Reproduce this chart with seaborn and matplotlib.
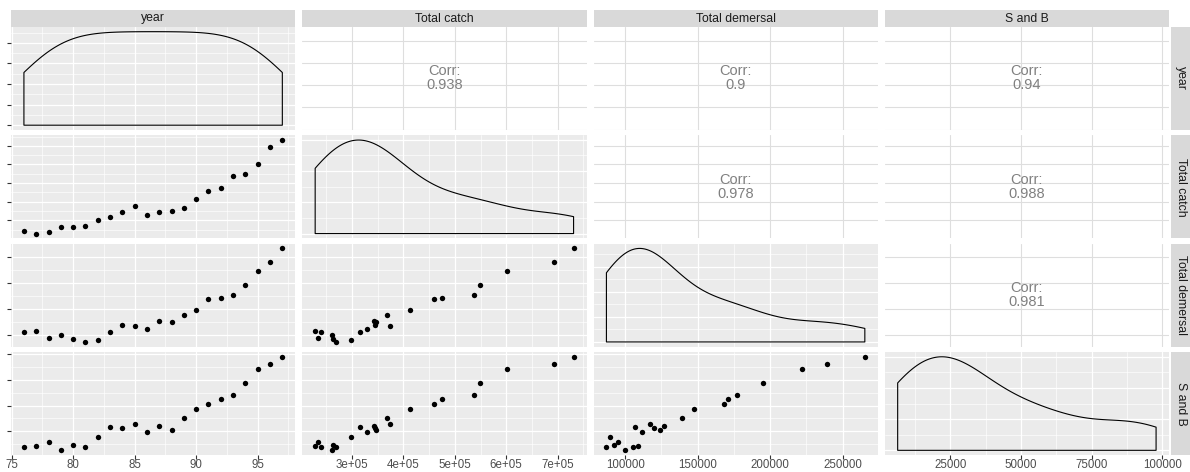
import numpy as np
import pandas as pd
import matplotlib
matplotlib.use("Agg")
import matplotlib.pyplot as plt
import seaborn as sns
from matplotlib.ticker import AutoMinorLocator, MaxNLocator

# ---------------- data ----------------
year = [76, 77, 78, 79, 80, 81, 82, 83, 84, 85, 86,
        87, 88, 89, 90, 91, 92, 93, 94, 95, 96, 97]
total_catch = [240000, 228300, 234100, 261000, 262800, 269300, 298700, 315000,
               344400, 374300, 330000, 342400, 347000, 367800, 413500, 459800,
               474800, 537400, 549000, 600700, 692000, 731000]
total_demersal = [105300, 108800, 94900, 100000, 92400, 87100, 89900, 106500,
                  120000, 117300, 111500, 126700, 124400, 139400, 147500, 168400,
                  171200, 177000, 194900, 222300, 239600, 265400]
s_and_b = [9240, 10520, 14060, 6340, 11810, 9240, 18890, 28870, 28220, 31760,
           24040, 29830, 26290, 37880, 46240, 52040, 56540, 60720, 72310, 86150,
           90970, 97740]

variables = ["year", "Total catch", "Total demersal", "S and B"]

tick_values = {
    "year": [75, 80, 85, 90, 95],
    "Total catch": [300000, 400000, 500000, 600000, 700000],
    "Total demersal": [100000, 150000, 200000, 250000],
    "S and B": [25000, 50000, 75000, 100000],
}
tick_labels = {
    "year": ["75", "80", "85", "90", "95"],
    "Total catch": ["3e+05", "4e+05", "5e+05", "6e+05", "7e+05"],
    "Total demersal": ["100000", "150000", "200000", "250000"],
    "S and B": ["25000", "50000", "75000", "100000"],
}
corr_labels = {
    (0, 1): "0.938", (0, 2): "0.9", (0, 3): "0.94",
    (1, 2): "0.978", (1, 3): "0.988",
    (2, 3): "0.981",
}

df = pd.DataFrame({
    "year": year,
    "Total catch": total_catch,
    "Total demersal": total_demersal,
    "S and B": s_and_b,
})

# ---------------- style ----------------
sns.set_theme(style="darkgrid")
plt.rcParams["font.family"] = ["Liberation Sans", "DejaVu Sans"]

PANEL_BG = "#EBEBEB"
STRIP_BG = "#D9D9D9"
TEXT_COL = "#1A1A1A"
TICK_TXT = "#4D4D4D"
TICK_COL = "#333333"

W, H = 1190, 472
fig = plt.figure(figsize=(W / 100, H / 100), dpi=100)
fig.patch.set_facecolor("white")

left, right, top, bottom = 11, 1169, 27, 455
pw = (right - left - 3 * 7) / 4
ph = (bottom - top - 3 * 5.5) / 4
gs = fig.add_gridspec(4, 4, left=left / W, right=right / W,
                      top=1 - top / H, bottom=1 - bottom / H,
                      wspace=7 / pw, hspace=5.5 / ph)


def limits(v):
    arr = np.asarray(df[v], dtype=float)
    lo, hi = arr.min(), arr.max()
    r = hi - lo
    return lo - 0.05 * r, hi + 0.05 * r


def nrd0_factor(v):
    arr = np.asarray(df[v], dtype=float)
    sd = arr.std(ddof=1)
    q75, q25 = np.percentile(arr, [75, 25])
    h = 0.9 * min(sd, (q75 - q25) / 1.34) * len(arr) ** (-0.2)
    return h / sd


axes = {}
for i, rv in enumerate(variables):
    for j, cv in enumerate(variables):
        ax = fig.add_subplot(gs[i, j])
        axes[(i, j)] = ax
        for s in ax.spines.values():
            s.set_visible(False)
        ax.set_xlim(*limits(cv))
        ax.set_xticks(tick_values[cv])
        ax.xaxis.set_minor_locator(AutoMinorLocator(2))

        if i == j:
            sns.kdeplot(data=df, x=cv, ax=ax, bw_method=nrd0_factor(cv), cut=0,
                        fill=True, color="black", facecolor="none",
                        edgecolor="black", linewidth=0.8)
            ymax = max(p.vertices[:, 1].max() for p in ax.collections[-1].get_paths())
            ax.set_ylim(-0.05 * ymax, 1.05 * ymax)
            ax.yaxis.set_major_locator(MaxNLocator(nbins=5, steps=[1, 2, 2.5, 5, 10]))
            ax.yaxis.set_minor_locator(AutoMinorLocator(2))
            ax.set_facecolor(PANEL_BG)
            ax.grid(True, which="major", color="white", linewidth=0.9)
            ax.grid(True, which="minor", color="white", linewidth=0.45)
        else:
            ax.set_ylim(*limits(rv))
            ax.set_yticks(tick_values[rv])
            if i > j:
                sns.scatterplot(data=df, x=cv, y=rv, ax=ax, color="black",
                                s=15, linewidth=0)
                ax.yaxis.set_minor_locator(AutoMinorLocator(2))
                ax.set_facecolor(PANEL_BG)
                ax.grid(True, which="major", color="white", linewidth=0.9)
                ax.grid(True, which="minor", color="white", linewidth=0.45)
            else:
                ax.set_facecolor("white")
                ax.grid(True, which="major", color="#DEDEDE", linewidth=0.8)
                ax.grid(False, which="minor")
                ax.text(0.5, 0.5, "Corr:\n" + corr_labels[(i, j)],
                        transform=ax.transAxes, ha="center", va="center",
                        color="#808080", fontsize=10.5, linespacing=1.0)
        ax.set_axisbelow(True)
        ax.set_xlabel("")
        ax.set_ylabel("")
        ax.tick_params(which="both", length=0, labelleft=False, labelbottom=False)
        if j == 0:
            ax.tick_params(axis="y", which="major", left=True, length=2.9,
                           width=0.8, color=TICK_COL)
        if i == 3:
            ax.set_xticks(tick_values[cv], tick_labels[cv])
            ax.tick_params(axis="x", which="major", bottom=True, length=2.6,
                           width=0.8, color=TICK_COL, labelbottom=True,
                           labelsize=8.3, labelcolor=TICK_TXT, pad=0.3)

# ---------------- strips ----------------
for j, v in enumerate(variables):
    pos = axes[(0, j)].get_position()
    sax = fig.add_axes([pos.x0, 1 - top / H, pos.width, 17 / H])
    sax.set_facecolor(STRIP_BG)
    sax.set_xticks([]); sax.set_yticks([])
    for s in sax.spines.values():
        s.set_visible(False)
    sax.grid(False)
    sax.text(0.5, 0.5, v, transform=sax.transAxes, ha="center", va="center",
             fontsize=8.8, color=TEXT_COL)

for i, v in enumerate(variables):
    pos = axes[(i, 3)].get_position()
    sax = fig.add_axes([1171 / W, pos.y0, 19 / W, pos.height])
    sax.set_facecolor(STRIP_BG)
    sax.set_xticks([]); sax.set_yticks([])
    for s in sax.spines.values():
        s.set_visible(False)
    sax.grid(False)
    sax.text(0.5, 0.5, v, transform=sax.transAxes, ha="center", va="center",
             fontsize=8.8, color=TEXT_COL, rotation=-90)

fig.savefig("out.png", dpi=100, facecolor="white")
